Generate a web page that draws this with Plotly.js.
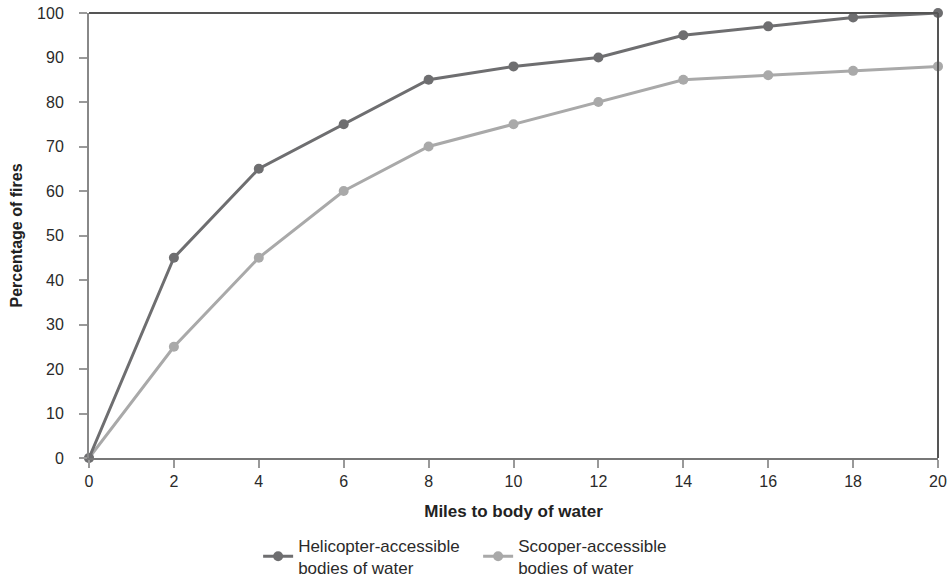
<!DOCTYPE html>
<html>
<head>
<meta charset="utf-8">
<script src="https://cdn.plot.ly/plotly-3.0.1.min.js"></script>
<style>html,body{margin:0;padding:0;background:#fff;}#chart{width:949px;height:578px;}</style>
</head>
<body>
<div id="chart"></div>
<script>
const miles = [0, 2, 4, 6, 8, 10, 12, 14, 16, 18, 20];
const helicopter = [0, 45, 65, 75, 85, 88, 90, 95, 97, 99, 100];
const scooper = [0, 25, 45, 60, 70, 75, 80, 85, 86, 87, 88];
const xTicks = [0, 2, 4, 6, 8, 10, 12, 14, 16, 18, 20];
const yTicks = [0, 10, 20, 30, 40, 50, 60, 70, 80, 90, 100];
const seriesNames = ["Helicopter-accessible<br>bodies of water", "Scooper-accessible<br>bodies of water"];

const FONT = "Liberation Sans, Arial, sans-serif";
const traces = [
  {x: miles, y: scooper, name: seriesNames[1], mode: "lines+markers", cliponaxis: false,
   line: {color: "#a9a9a9", width: 3}, marker: {color: "#a9a9a9", size: 10}},
  {x: miles, y: helicopter, name: seriesNames[0], mode: "lines+markers", cliponaxis: false,
   line: {color: "#6e6e70", width: 3}, marker: {color: "#6e6e70", size: 10}}
];
const layout = {
  width: 949, height: 578,
  margin: {l: 89, r: 11, t: 13, b: 120},
  paper_bgcolor: "#fff", plot_bgcolor: "#fff",
  font: {family: FONT, size: 16, color: "#2a2a2a"},
  showlegend: true,
  legend: {orientation: "h", traceorder: "reversed", xref: "container", yref: "container",
           x: 0.272, xanchor: "left", y: 0.087, yanchor: "top", entrywidth: 175, entrywidthmode: "pixels",
           itemwidth: 30, tracegroupgap: 0,
           font: {family: FONT, size: 17, color: "#2a2a2a"}},
  xaxis: {range: [0, 20], tickvals: xTicks, ticktext: xTicks.map(String), ticks: "outside", ticklen: 8,
          tickwidth: 2, tickcolor: "#999", showline: true, linecolor: "#777", linewidth: 2,
          showgrid: false, zeroline: false,
          tickfont: {family: FONT, size: 16, color: "#2a2a2a"},
          title: {text: "<b>Miles to body of water</b>", font: {family: FONT, size: 17, color: "#222"}, standoff: 16}},
  yaxis: {range: [0, 100], tickvals: yTicks, ticktext: yTicks.map(String), ticks: "outside", ticklen: 8,
          tickwidth: 2, tickcolor: "#999", showline: true, linecolor: "#888", linewidth: 2,
          showgrid: false, zeroline: false, ticklabelstandoff: 12,
          tickfont: {family: FONT, size: 16, color: "#2a2a2a"},
          title: {text: "<b>Percentage of fires</b>", font: {family: FONT, size: 16, color: "#222"}, standoff: 10}},
  shapes: [
    {type: "line", xref: "paper", yref: "paper", x0: 0, x1: 1, y0: 1, y1: 1, line: {color: "#555", width: 2}},
    {type: "line", xref: "paper", yref: "paper", x0: 1, x1: 1, y0: 0, y1: 1, line: {color: "#555", width: 2}}
  ]
};
Plotly.newPlot("chart", traces, layout, {displayModeBar: false, staticPlot: true});
</script>
</body>
</html>
